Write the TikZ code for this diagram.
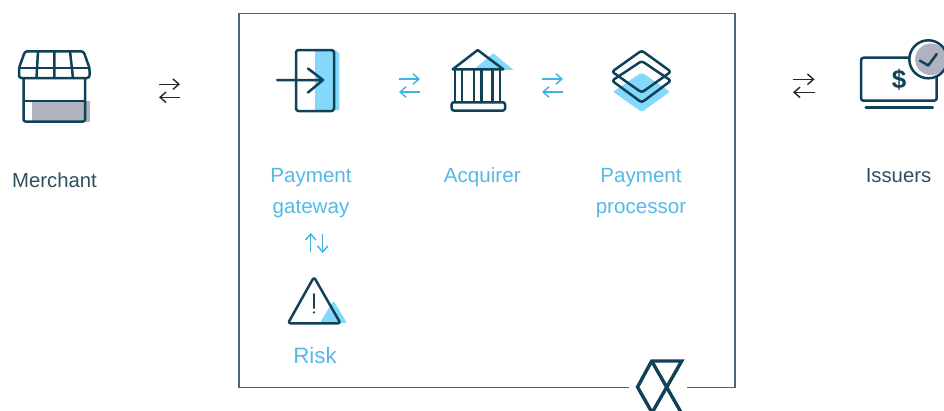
\documentclass[tikz,border=0pt]{standalone}
\usepackage{fontspec}
\setmainfont{Liberation Sans}
\usetikzlibrary{arrows.meta}
\definecolor{ink}{HTML}{0F4157}
\definecolor{frameink}{HTML}{4A6877}
\definecolor{sky}{HTML}{3DB3E6}
\definecolor{pale}{HTML}{84D8FB}
\definecolor{slate}{HTML}{B0B3BF}
\definecolor{labeldark}{HTML}{2F4F5E}
\definecolor{labelblue}{HTML}{55B9E6}
\tikzset{
  icon/.style={draw=ink,line width=2.5pt,line join=round,line cap=round},
  paleshape/.style={fill=pale,draw=none},
  slateshape/.style={fill=slate,draw=none},
  tip/.style={-{Straight Barb[length=6pt,width=10.5pt,line width=1.4pt]}},
  darkflow/.style={tip,draw=black!85,line width=1.4pt},
  blueflow/.style={tip,draw=sky,line width=1.4pt},
  darklabel/.style={text=labeldark,font=\fontsize{20.3}{31}\selectfont,align=center,inner sep=0pt},
  bluelabel/.style={text=labelblue,font=\fontsize{20.6}{31}\selectfont,align=center,inner sep=0pt},
}
\begin{document}
\begin{tikzpicture}[x=1pt,y=-1pt]
\path[use as bounding box] (0,0) rectangle (944,410);
\clip (0,0) rectangle (944,410);
% frame
\coordinate (fa) at (629,387.6);
\coordinate (fb) at (239,387.6);
\coordinate (fc) at (239,13.3);
\coordinate (fd) at (735,13.3);
\coordinate (fe) at (735,387.6);
\coordinate (ff) at (687,387.6);
\draw[frameink,line width=1.2pt] (fa) -- (fb) -- (fc) -- (fd) -- (fe) -- (ff);
% logo
\draw[ink,line width=3.4pt,line join=miter]
  (654,416) -- (637.5,387) -- (651.7,361) -- (681.7,361) -- (645,425);
\draw[ink,line width=3.4pt] (651.7,361) -- (690,428);
% merchant icon
\fill[slateshape] (32,101) rectangle (90,122);
\draw[icon,rounded corners=2pt] (23.5,78) -- (23.5,121.5) -- (85,121.5) -- (85,78);
\draw[icon] (23.5,101) -- (85,101);
\draw[icon,rounded corners=2.5pt] (19,78) -- (19,68) -- (25,51.3) -- (83.5,51.3) -- (89.5,68) -- (89.5,78) -- cycle;
\draw[icon] (19,68) -- (89.5,68);
\draw[icon] (38,51.3) -- (36.5,78) (54.3,51.3) -- (54.3,78) (70,51.3) -- (73,78);
% gateway icon
\fill[paleshape] (315,50) -- (335,50) -- (339.3,53) -- (339.3,110) -- (315,110.5) -- cycle;
\draw[icon,rounded corners=2.5pt] (296,50) rectangle (334,111);
\draw[icon] (277,80) -- (322,80) (308,68.5) -- (323,80) -- (308,92.5);
% bank icon
\fill[paleshape] (473.3,69.8) -- (493.3,53.3) -- (513.3,69.8) -- cycle;
\draw[icon] (452.7,69.3) -- (477.7,50) -- (503.3,69.3) -- cycle;
\draw[icon] (455,69.3) -- (455,102) (462,69.3) -- (462,102) (474,69.3) -- (474,102) (481.7,69.3) -- (481.7,102) (492.7,69.3) -- (492.7,102) (500,69.3) -- (500,102);
\draw[icon,rounded corners=2pt] (451.7,102.3) rectangle (505,110.5);
% layers icon
\fill[paleshape,rounded corners=2pt] (641.7,72.5) -- (670,91.7) -- (641.7,112) -- (613,91.7) -- cycle;
\draw[icon,rounded corners=2.5pt] (641.7,61) -- (671,80.7) -- (641.7,102.5) -- (612,80.7) -- cycle;
\draw[icon,rounded corners=2.5pt] (641.7,50.5) -- (671,71.7) -- (641.7,92.5) -- (612,71.7) -- cycle;
% issuer icon
\draw[icon,rounded corners=2.5pt] (861,57.7) rectangle (936.7,100.7);
\draw[icon] (865.7,107.3) -- (932.7,107.3);
\node[inner sep=0pt,text=ink,font=\fontsize{26}{26}\selectfont\bfseries] (dollar) at (899,80) {\$};
\fill[white] (928.3,59.3) circle (19.5);
\fill[slateshape] (931,59.3) circle (15.8);
\draw[icon] (928.3,59.3) circle (19);
\draw[icon] (920,60.7) -- (928.3,65.5) -- (936.7,54);
% risk icon
\fill[paleshape,rounded corners=2pt] (320,322.5) -- (333.5,300.5) -- (347,323) -- cycle;
\draw[icon,rounded corners=2.5pt] (314,277) -- (340.5,323.3) -- (288,323.3) -- cycle;
\draw[ink,line width=2pt,line cap=round] (314,294) -- (314,308);
\fill[ink] (314,312.3) circle (1.3);
% labels
\node[darklabel] (merchant) at (54.5,180) {Merchant};
\node[bluelabel] (gateway) at (311,193) {Payment\\gateway};
\node[bluelabel] (acquirer) at (482.3,177) {Acquirer};
\node[bluelabel] (processor) at (641,193) {Payment\\processor};
\node[darklabel] (issuers) at (898.5,176) {Issuers};
\node[bluelabel,font=\fontsize{22.3}{27}\selectfont] (risk) at (315,355.5) {Risk};
% flow arrows
\coordinate (m1) at (159,84.2); \coordinate (m2) at (180,84.2);
\coordinate (m3) at (180,97.3); \coordinate (m4) at (159,97.3);
\draw[darkflow] (m1) -- (m2);
\draw[darkflow] (m3) -- (m4);
\coordinate (a1) at (399,79); \coordinate (a2) at (420,79);
\coordinate (a3) at (420,92); \coordinate (a4) at (399,92);
\draw[blueflow] (a1) -- (a2);
\draw[blueflow] (a3) -- (a4);
\coordinate (b1) at (542,79); \coordinate (b2) at (563,79);
\coordinate (b3) at (563,92); \coordinate (b4) at (542,92);
\draw[blueflow] (b1) -- (b2);
\draw[blueflow] (b3) -- (b4);
\coordinate (c1) at (793,79.3); \coordinate (c2) at (814.5,79.3);
\coordinate (c3) at (814.5,92.3); \coordinate (c4) at (793,92.3);
\draw[darkflow] (c1) -- (c2);
\draw[darkflow] (c3) -- (c4);
\coordinate (d1) at (310.7,252); \coordinate (d2) at (310.7,233);
\coordinate (d3) at (322.7,234); \coordinate (d4) at (322.7,253);
\draw[blueflow] (d1) -- (d2);
\draw[blueflow] (d3) -- (d4);
\end{tikzpicture}
\end{document}
